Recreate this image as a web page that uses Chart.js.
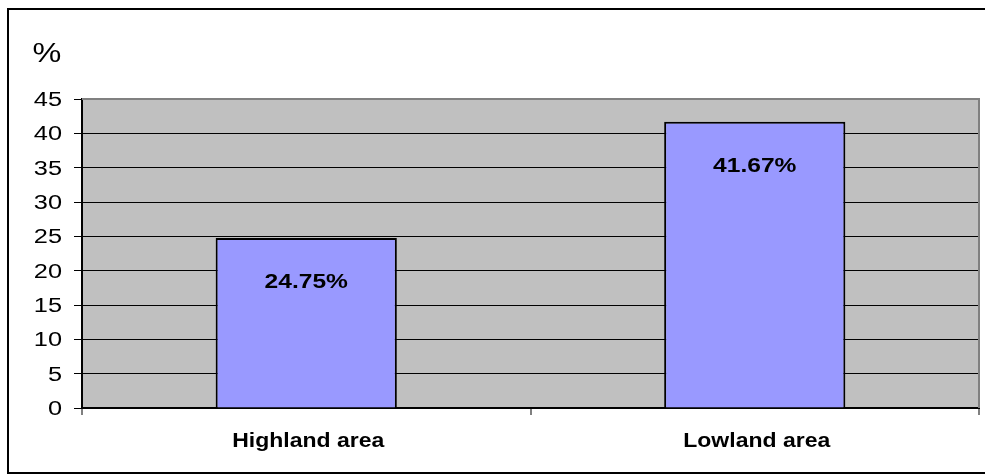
<!DOCTYPE html>
<html>
<head>
<meta charset="utf-8">
<script src="https://cdn.jsdelivr.net/npm/chart.js@4.4.0/dist/chart.umd.min.js"></script>
<style>
  html, body { margin: 0; padding: 0; background: #ffffff; }
  #wrap { width: 985px; height: 475px; position: relative; }
</style>
</head>
<body>
<div id="wrap"><canvas id="graph" width="985" height="475"></canvas></div>
<script>
var categories = ['Highland area', 'Lowland area'];
var values = [24.75, 41.67];
var valueLabels = ['24.75%', '41.67%'];
var yTicks = [0, 5, 10, 15, 20, 25, 30, 35, 40, 45];

var fontFamily = '"Liberation Sans", Arial, sans-serif';

// text in the original is a bit wide, so draw it stretched horizontally
function wideText(ctx, text, x, y, font, sx, align) {
    ctx.save();
    ctx.font = font;
    ctx.fillStyle = '#000000';
    ctx.textBaseline = 'alphabetic';
    ctx.textAlign = 'left';
    var w = ctx.measureText(text).width * sx;
    var left = x;
    if (align === 'center') left = x - w / 2;
    if (align === 'right') left = x - w;
    ctx.translate(left, y);
    ctx.scale(sx, 1);
    ctx.fillText(text, 0, 0);
    ctx.restore();
}

var decor = {
    id: 'decor',
    beforeDraw: function (chart) {
        var ctx = chart.ctx, a = chart.chartArea;
        ctx.save();
        ctx.fillStyle = '#ffffff';
        ctx.fillRect(0, 0, chart.width, chart.height);
        ctx.fillStyle = '#c0c0c0';
        ctx.fillRect(a.left, a.top, a.right - a.left, a.bottom - a.top);
        ctx.lineWidth = 2;
        ctx.strokeStyle = '#000000';
        ctx.strokeRect(8, 9, 1000, 464);
        ctx.restore();
        wideText(ctx, '%', 47, 62, '27px ' + fontFamily, 1.2, 'center');
    },
    afterDatasetsDraw: function (chart) {
        var ctx = chart.ctx, a = chart.chartArea;
        ctx.save();
        ctx.strokeStyle = '#808080';
        ctx.lineWidth = 2;
        ctx.beginPath();
        ctx.moveTo(a.left, a.top);
        ctx.lineTo(a.right, a.top);
        ctx.lineTo(a.right, a.bottom);
        ctx.stroke();
        ctx.restore();
        chart.getDatasetMeta(0).data.forEach(function (bar, i) {
            wideText(ctx, valueLabels[i], bar.x, bar.y + 50, 'bold 21px ' + fontFamily, 1.17, 'center');
        });
    },
    afterDraw: function (chart) {
        var ctx = chart.ctx;
        var ys = chart.scales.y, xs = chart.scales.x;
        yTicks.forEach(function (v) {
            wideText(ctx, String(v), 62, ys.getPixelForValue(v) + 7, '19.5px ' + fontFamily, 1.3, 'right');
        });
        categories.forEach(function (c, i) {
            wideText(ctx, c, xs.getPixelForValue(i) + 2, 447, 'bold 19.5px ' + fontFamily, 1.18, 'center');
        });
    }
};

var graph = new Chart(document.getElementById('graph'), {
    type: 'bar',
    data: {
        labels: categories,
        datasets: [{
            data: values,
            backgroundColor: '#9999ff',
            borderColor: '#000000',
            borderWidth: 2,
            borderSkipped: 'bottom',
            barPercentage: 0.404,
            categoryPercentage: 1
        }]
    },
    options: {
        responsive: false,
        animation: false,
        layout: { padding: { left: 0, right: 6, top: 99, bottom: 0 } },
        plugins: {
            legend: { display: false },
            tooltip: { enabled: false }
        },
        scales: {
            x: {
                grid: { offset: true, drawOnChartArea: false, tickLength: 7, color: '#808080', lineWidth: 2 },
                border: { color: '#000000', width: 2 },
                ticks: { display: false },
                afterFit: function (s) { s.height = 67; }
            },
            y: {
                min: 0,
                max: 45,
                afterBuildTicks: function (s) { s.ticks = yTicks.map(function (v) { return { value: v }; }); },
                grid: { color: '#000000', lineWidth: 1, tickLength: 8 },
                border: { color: '#000000', width: 2 },
                ticks: { display: false },
                afterFit: function (s) { s.width = 82; }
            }
        }
    },
    plugins: [decor]
});
</script>
</body>
</html>
